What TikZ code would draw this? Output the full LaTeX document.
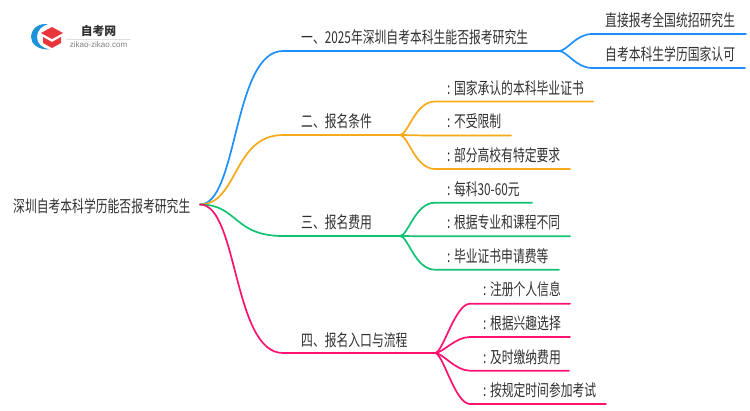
\documentclass[tikz,border=0pt]{standalone}
\usepackage{fontspec}
\usetikzlibrary{calc}
\setmainfont{Noto Sans CJK SC}[FakeStretch=0.72]
\newfontfamily\logofont{Noto Sans CJK SC}
\newfontfamily\latinfont{Liberation Sans}
\definecolor{bl}{HTML}{1E8FFF}
\definecolor{og}{HTML}{F7A918}
\definecolor{gr}{HTML}{12C274}
\definecolor{pk}{HTML}{FF1170}
\definecolor{tx}{HTML}{303030}
\definecolor{lb}{HTML}{1C93D8}
\definecolor{rd}{HTML}{E8363A}
\tikzset{
 txt/.style={inner sep=0pt,anchor=west,text=tx,font=\fontsize{16.4}{16}\selectfont},
 wire/.style={line width=1.7pt,line cap=round,line join=round},
 sbend/.style 2 args={to path={.. controls ($(\tikztostart)+(#1,0)$) and ($(\tikztotarget)+(-#2,0)$) .. (\tikztotarget)}},
}
\begin{document}
\begin{tikzpicture}[x=1pt,y=-1pt]
\useasboundingbox (0,0) rectangle (750,410);
% logo
\fill[lb] (48,24) .. controls (34,23) and (31,33) .. (31,37) .. controls (31,44) and (38,50) .. (50,49.5) .. controls (42,48) and (37,44) .. (37,37) .. controls (37,30) and (42,26) .. (48,24) -- cycle;
\fill[rd] (52,27) -- (63,33) -- (52,39) -- (41,33) -- cycle;
\fill[rd] (43,37) -- (52,42) -- (61,37) -- (61,43) -- (52,48) -- (43,43) -- cycle;
\node[inner sep=0pt,text=tx,font=\logofont\bfseries\fontsize{11.8}{12}\selectfont] (brand) at (98.5,31) {自考网};
\draw[draw=black!12,line width=0.5pt] (66,39) coordinate (ruleL) -- (131,39) coordinate (ruleR);
\node[inner sep=0pt,text=black!50,font=\latinfont\fontsize{8}{8}\selectfont] (site) at (98.5,45) {zikao-zikao.com};
% root
\node[txt] (root) at (13,206) {深圳自考本科学历能否报考研究生};
\coordinate (o) at (200,204.5);
% level 1 text
\node[txt] (b1) at (301,37) {一、2025年深圳自考本科生能否报考研究生};
\node[txt] (b2) at (301,121.5) {二、报名条件};
\node[txt] (b3) at (301,222) {三、报名费用};
\node[txt] (b4) at (301,340) {四、报名入口与流程};
% junction and start
\foreach \n/\x/\y in {s1/283/51,j1/559/51,s2/283/135,j2/400/135,s3/283/236,j3/400/236,s4/283/353,j4/435/353,
  a1/592/34,a1e/746/34,a2/592/68,a2e/745/68,
  c1/435/101.5,c1e/593/101.5,c2/435/135.5,c2e/511/135.5,c3/435/169,c3e/570/169,
  d1/435/202.7,d1e/532/202.7,d2/435/236.3,d2e/570/236.3,d3/435/269.7,d3e/559/269.7,
  e1/470/303.7,e1e/570/303.7,e2/470/337,e2e/570/337,e3/470/370.7,e3e/569/370.7,e4/470/404,e4e/606/404}
 {\coordinate (\n) at (\x,\y);}
% leaves
\node[txt] (t1) at (605,20) {直接报考全国统招研究生};
\node[txt] (t2) at (605,54) {自考本科生学历国家认可};
\node[txt] (t3) at (447,88) {: 国家承认的本科毕业证书};
\node[txt] (t4) at (447,121.5) {: 不受限制};
\node[txt] (t5) at (447,155) {: 部分高校有特定要求};
\node[txt] (t6) at (447,189) {: 每科30-60元};
\node[txt] (t7) at (447,222.5) {: 根据专业和课程不同};
\node[txt] (t8) at (447,256) {: 毕业证书申请费等};
\node[txt] (t9) at (483,289.5) {: 注册个人信息};
\node[txt] (t10) at (483,323) {: 根据兴趣选择};
\node[txt] (t11) at (483,357) {: 及时缴纳费用};
\node[txt] (t12) at (483,390) {: 按规定时间参加考试};
% connectors
\draw[wire,bl] (o) to[sbend={38}{50}] (s1) -- (j1);
\draw[wire,bl] (j1) to[sbend={8}{16}] (a1) -- (a1e);
\draw[wire,bl] (j1) to[sbend={8}{16}] (a2) -- (a2e);
\draw[wire,og] (o) to[sbend={38}{50}] (s2) -- (j2);
\draw[wire,og] (j2) to[sbend={8}{20}] (c1) -- (c1e);
\draw[wire,og] (j2) to[sbend={8}{20}] (c2) -- (c2e);
\draw[wire,og] (j2) to[sbend={8}{20}] (c3) -- (c3e);
\draw[wire,gr] (o) to[sbend={38}{50}] (s3) -- (j3);
\draw[wire,gr] (j3) to[sbend={8}{20}] (d1) -- (d1e);
\draw[wire,gr] (j3) to[sbend={8}{20}] (d2) -- (d2e);
\draw[wire,gr] (j3) to[sbend={8}{20}] (d3) -- (d3e);
\draw[wire,pk] (o) to[sbend={38}{50}] (s4) -- (j4);
\draw[wire,pk] (j4) to[sbend={8}{15}] (e1) -- (e1e);
\draw[wire,pk] (j4) to[sbend={8}{15}] (e2) -- (e2e);
\draw[wire,pk] (j4) to[sbend={8}{15}] (e3) -- (e3e);
\draw[wire,pk] (j4) to[sbend={8}{15}] (e4) -- (e4e);
\end{tikzpicture}
\end{document}
